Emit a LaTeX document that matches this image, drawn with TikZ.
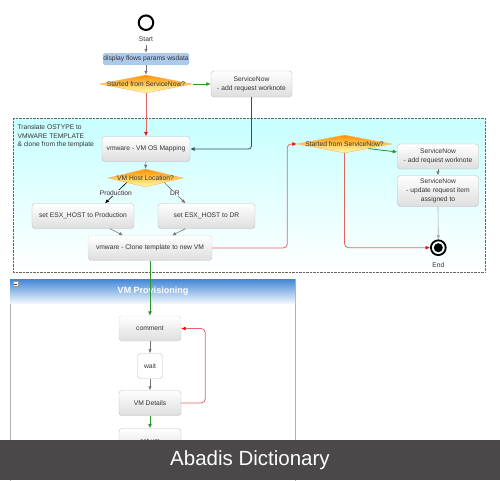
\documentclass[tikz,border=0pt]{standalone}
\usepackage{fontspec}
\setmainfont{Liberation Sans}
\usetikzlibrary{arrows.meta, shapes.geometric}
\definecolor{boxline}{RGB}{190,190,190}
\definecolor{flowred}{RGB}{228,100,100}
\definecolor{flowgreen}{RGB}{40,150,40}
\definecolor{flowteal}{RGB}{45,85,80}
\definecolor{paramblue}{RGB}{172,202,236}
\definecolor{headblue}{RGB}{64,134,214}
\definecolor{bannergray}{RGB}{74,72,73}

\begin{document}
\begin{tikzpicture}[x=1pt, y=-1pt,
    every node/.style={font=\fontsize{6.7}{8.8}\selectfont, text=black!80},
    task/.style={draw=boxline, rounded corners=3pt, top color=white, bottom color=black!13, minimum height=25pt, inner sep=1pt, align=center},
    notetask/.style={task, densely dotted, draw=black!35},
    decide/.style={diamond, draw=orange!60, top color=orange!85!yellow, bottom color=yellow!30, inner sep=0pt, minimum height=18pt},
    tip/.style={-{Latex[length=4pt, width=3.5pt]}, line width=0.6pt, draw=black!55},
    redtip/.style={-{Latex[length=4.5pt, width=4pt, color=red]}, line width=0.8pt, draw=flowred, rounded corners=4pt},
    greentip/.style={-{Latex[length=4.5pt, width=4pt]}, line width=0.8pt, draw=flowgreen}]
    \useasboundingbox (0,0) rectangle (500,480);

    \draw [densely dotted, draw=black!60, top color=cyan!22, bottom color=white] (13,118) rectangle (485,272);
    \node [anchor=north west, align=left] (grouptext) at (14,121) {Translate OSTYPE to\\VMWARE TEMPLATE\\\& clone from the template};

    \node [circle, draw, line width=2pt, minimum size=14.5pt, inner sep=0pt] (start) at (146,22.7) {};
    \node (startlbl) at (146,39) {Start};
    \node [fill=paramblue, rounded corners=1.5pt, minimum width=86pt, minimum height=12pt, inner sep=0pt] (display) at (146,59) {display flows params wsdata};
    \node [decide, minimum width=93pt] (dec1) at (146,84) {\makebox[0pt]{Started from ServiceNow?}};
    \node [task, minimum width=81pt, minimum height=26pt] (sn1) at (251.5,84) {ServiceNow\\- add request worknote};
    \node [task, minimum width=88pt] (map) at (146,149) {vmware - VM OS Mapping};
    \node [decide, minimum width=75pt] (dec2) at (145.5,178) {\makebox[0pt]{VM Host Location?}};
    \node [task, minimum width=102pt] (prod) at (83,216) {set ESX\_HOST to Production};
    \node [task, minimum width=97pt] (dr) at (206.5,216) {set ESX\_HOST to DR};
    \node [notetask, minimum width=124pt] (clone) at (150,248) {vmware - Clone template to new VM};
    \node [decide, minimum width=95pt] (dec3) at (344.5,144) {\makebox[0pt]{Started from ServiceNow?}};
    \node [task, minimum width=81pt] (sn2) at (438,156.5) {ServiceNow\\- add request worknote};
    \node [task, minimum width=81pt, minimum height=31pt] (sn3) at (438,191) {ServiceNow\\- update request item\\assigned to};
    \node [circle, draw, line width=1.8pt, minimum size=14.8pt, inner sep=0pt] (end) at (438.3,247.7) {};
    \fill (end) circle (4.5pt);
    \node (endlbl) at (438.3,265) {End};

    \draw [draw=black!30, fill=white] (10,279) rectangle (295,482);
    \shade [top color=headblue, bottom color=headblue!8] (10,279) rectangle (295,303);
    \draw [fill=white, draw=black!40] (13,281.5) rectangle (18,286.5);
    \draw [black!70] (14,284) -- (17,284);
    \node [text=white, font=\fontsize{9}{11}\selectfont\bfseries] (panelhead) at (153,291.5) {VM Provisioning};
    \node [notetask, minimum width=62pt] (comment) at (150,328.5) {comment};
    \node [task, top color=white, bottom color=white, minimum width=25pt] (wait) at (150,366) {wait};
    \node [task, minimum width=62pt] (details) at (150,403) {VM Details};
    \node [task, minimum width=62pt] (setvm) at (150,441) {set vm};

    \draw [tip] (startlbl) -- (display);
    \draw [tip] (display) -- (dec1);
    \draw [greentip] (dec1.east) -- (sn1.west);
    \draw [redtip] (dec1.south) -- (map.north);
    \draw [-{Latex[length=4.5pt, width=4pt]}, line width=0.8pt, draw=flowteal, rounded corners=3pt] (sn1.south) |- (map.east);
    \draw [tip] (map.south) -- (dec2.north);
    \draw [tip, draw=black] (dec2.south west) -- ([xshift=22pt]prod.north) node [midway, fill=cyan!9, inner sep=0.5pt] {Production};
    \draw [tip] (dec2.south east) -- ([xshift=-21pt]dr.north) node [midway, fill=cyan!9, inner sep=0.5pt] {DR};
    \draw [tip] ([xshift=27pt]prod.south) -- ([xshift=-27pt]clone.north);
    \draw [tip] ([xshift=-21pt]dr.south) -- ([xshift=22pt]clone.north);
    \draw [redtip] (clone.east) -- ++(75,0) |- (dec3.west);
    \draw [greentip] (dec3.south east) -- ([yshift=4.5pt]sn2.west);
    \draw [tip] (sn2.south) -- (sn3.north);
    \draw [tip, draw=black!35] (sn3.south) -- (end.north);
    \draw [redtip] (dec3.south) |- (end.west);
    \draw [greentip] (clone.south) -- (comment.north);
    \draw [tip] (comment.south) -- (wait.north);
    \draw [tip] (wait.south) -- (details.north);
    \draw [redtip] (details.east) -- ++(24,0) |- (comment.east);
    \draw [greentip] (details.south) -- (setvm.north);

    \fill [bannergray] (0,440) rectangle (500,480);
    \node [anchor=base, text=white, font=\fontsize{20.5}{24}\selectfont] (watermark) at (250,465.5) {Abadis Dictionary};
\end{tikzpicture}
\end{document}
